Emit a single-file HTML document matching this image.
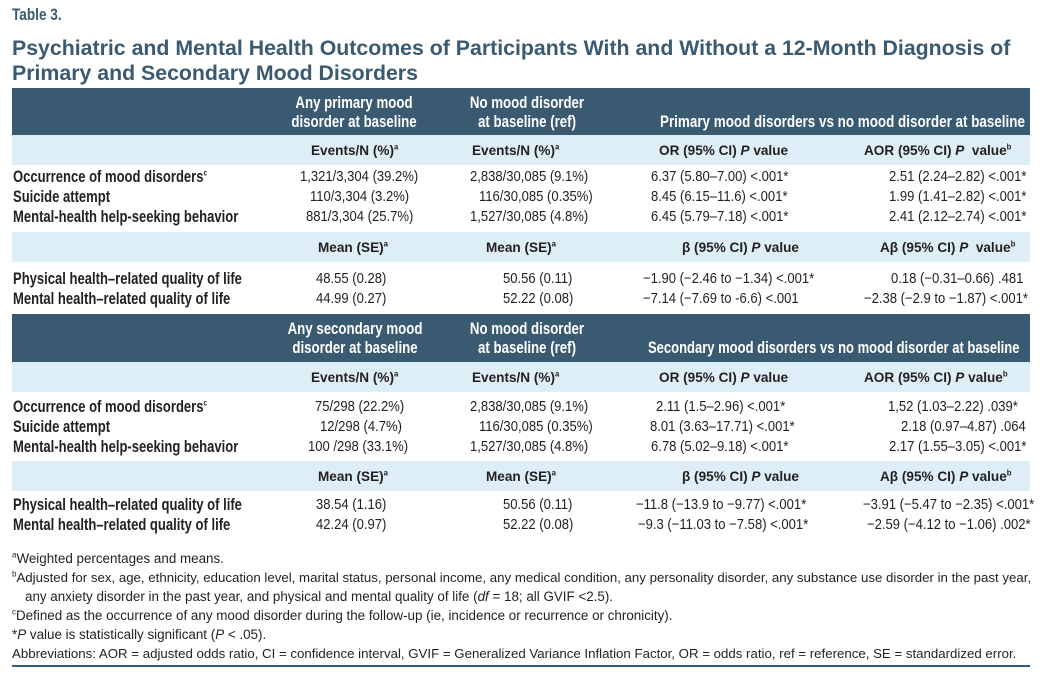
<!DOCTYPE html>
<html><head><meta charset="utf-8"><style>
body{margin:0;width:1042px;height:679px;background:#fff;position:relative;overflow:hidden;font-family:"Liberation Sans",sans-serif;color:#231f20}
.a{position:absolute;white-space:nowrap;line-height:18px;transform-origin:0 50%}
.band{position:absolute;left:12px;width:1018px}
.dk{background:#3a5a72}.lt{background:#ddeef7}
.h{color:#fff;font-weight:bold;font-size:17px;line-height:19px;text-align:center;width:240px;transform:scaleX(.78);transform-origin:50% 50%}
.v{color:#fff;font-weight:bold;font-size:17px;line-height:19px;transform:scaleX(.79)}
.s{font-weight:bold;font-size:14px;transform:scaleX(.97)}
.l{font-weight:bold;font-size:16.5px;transform:scaleX(.79)}
.d{font-size:14.5px;transform:scaleX(.9)}
.f{font-size:13.4px;left:12px}
sup{font-size:8px;line-height:0}
</style></head><body>
<div class="a" style="left:12px;top:6px;font-weight:bold;font-size:17px;color:#3a5a72;transform:scaleX(.8)">Table 3.</div>
<div class="a" style="left:12px;top:36px;font-weight:bold;font-size:21.3px;line-height:25px;color:#3a5a72">Psychiatric and Mental Health Outcomes of Participants With and Without a 12-Month Diagnosis of<br>Primary and Secondary Mood Disorders</div>

<div class="band dk" style="top:88px;height:47px"></div>
<div class="band lt" style="top:135px;height:30px"></div>
<div class="band lt" style="top:232px;height:30px"></div>
<div class="band dk" style="top:314px;height:48px"></div>
<div class="band lt" style="top:362px;height:30px"></div>
<div class="band lt" style="top:461px;height:30px"></div>
<div class="band" style="top:665px;height:2px;background:#3a5a72"></div>

<div class="a h" style="left:234px;top:93px">Any primary mood<br>disorder at baseline</div>
<div class="a h" style="left:407px;top:93px">No mood disorder<br>at baseline (ref)</div>
<div class="a v" style="left:660px;top:112px">Primary mood disorders vs no mood disorder at baseline</div>

<div class="a s" style="left:311px;top:141px">Events/N (%)<sup>a</sup></div>
<div class="a s" style="left:472px;top:141px">Events/N (%)<sup>a</sup></div>
<div class="a s" style="left:659px;top:141px">OR (95% CI) <i>P</i> value</div>
<div class="a s" style="left:864px;top:141px">AOR (95% CI) <i>P</i>&nbsp; value<sup>b</sup></div>

<div class="a l" style="left:13px;top:168px">Occurrence of mood disorders<sup>c</sup></div>
<div class="a l" style="left:13px;top:188px">Suicide attempt</div>
<div class="a l" style="left:13px;top:208px">Mental-health help-seeking behavior</div>
<div class="a d" style="left:300px;top:168px">1,321/3,304 (39.2%)</div>
<div class="a d" style="left:310px;top:188px">110/3,304 (3.2%)</div>
<div class="a d" style="left:306px;top:208px">881/3,304 (25.7%)</div>
<div class="a d" style="left:470px;top:168px">2,838/30,085 (9.1%)</div>
<div class="a d" style="left:479px;top:188px">116/30,085 (0.35%)</div>
<div class="a d" style="left:470px;top:208px">1,527/30,085 (4.8%)</div>
<div class="a d" style="left:651px;top:168px">6.37 (5.80–7.00) &lt;.001*</div>
<div class="a d" style="left:651px;top:188px">8.45 (6.15–11.6) &lt;.001*</div>
<div class="a d" style="left:651px;top:208px">6.45 (5.79–7.18) &lt;.001*</div>
<div class="a d" style="left:889px;top:168px">2.51 (2.24–2.82) &lt;.001*</div>
<div class="a d" style="left:889px;top:188px">1.99 (1.41–2.82) &lt;.001*</div>
<div class="a d" style="left:889px;top:208px">2.41 (2.12–2.74) &lt;.001*</div>

<div class="a s" style="left:318px;top:238px">Mean (SE)<sup>a</sup></div>
<div class="a s" style="left:486px;top:238px">Mean (SE)<sup>a</sup></div>
<div class="a s" style="left:682px;top:238px">β (95% CI) <i>P</i> value</div>
<div class="a s" style="left:880px;top:238px">Aβ (95% CI) <i>P</i>&nbsp; value<sup>b</sup></div>

<div class="a l" style="left:13px;top:270px">Physical health–related quality of life</div>
<div class="a l" style="left:13px;top:290px">Mental health–related quality of life</div>
<div class="a d" style="left:316px;top:270px">48.55 (0.28)</div>
<div class="a d" style="left:316px;top:290px">44.99 (0.27)</div>
<div class="a d" style="left:503px;top:270px">50.56 (0.11)</div>
<div class="a d" style="left:503px;top:290px">52.22 (0.08)</div>
<div class="a d" style="left:643px;top:270px">−1.90 (−2.46 to −1.34) &lt;.001*</div>
<div class="a d" style="left:643px;top:290px">−7.14 (−7.69 to -6.6) &lt;.001</div>
<div class="a d" style="left:891px;top:270px">0.18 (−0.31–0.66) .481</div>
<div class="a d" style="left:864px;top:290px">−2.38 (−2.9 to −1.87) &lt;.001*</div>

<div class="a h" style="left:235px;top:319px">Any secondary mood<br>disorder at baseline</div>
<div class="a h" style="left:407px;top:319px">No mood disorder<br>at baseline (ref)</div>
<div class="a v" style="left:648px;top:338px;transform:scaleX(.765)">Secondary mood disorders vs no mood disorder at baseline</div>

<div class="a s" style="left:311px;top:368px">Events/N (%)<sup>a</sup></div>
<div class="a s" style="left:472px;top:368px">Events/N (%)<sup>a</sup></div>
<div class="a s" style="left:659px;top:368px">OR (95% CI) <i>P</i> value</div>
<div class="a s" style="left:864px;top:368px">AOR (95% CI) <i>P</i> value<sup>b</sup></div>

<div class="a l" style="left:13px;top:398px">Occurrence of mood disorders<sup>c</sup></div>
<div class="a l" style="left:13px;top:418px">Suicide attempt</div>
<div class="a l" style="left:13px;top:438px">Mental-health help-seeking behavior</div>
<div class="a d" style="left:315px;top:398px">75/298 (22.2%)</div>
<div class="a d" style="left:320px;top:418px">12/298 (4.7%)</div>
<div class="a d" style="left:308px;top:438px">100 /298 (33.1%)</div>
<div class="a d" style="left:470px;top:398px">2,838/30,085 (9.1%)</div>
<div class="a d" style="left:479px;top:418px">116/30,085 (0.35%)</div>
<div class="a d" style="left:470px;top:438px">1,527/30,085 (4.8%)</div>
<div class="a d" style="left:656px;top:398px">2.11 (1.5–2.96) &lt;.001*</div>
<div class="a d" style="left:650px;top:418px">8.01 (3.63–17.71) &lt;.001*</div>
<div class="a d" style="left:651px;top:438px">6.78 (5.02–9.18) &lt;.001*</div>
<div class="a d" style="left:888px;top:398px">1,52 (1.03–2.22) .039*</div>
<div class="a d" style="left:901px;top:418px">2.18 (0.97–4.87) .064</div>
<div class="a d" style="left:889px;top:438px">2.17 (1.55–3.05) &lt;.001*</div>

<div class="a s" style="left:318px;top:467px">Mean (SE)<sup>a</sup></div>
<div class="a s" style="left:486px;top:467px">Mean (SE)<sup>a</sup></div>
<div class="a s" style="left:682px;top:467px">β (95% CI) <i>P</i> value</div>
<div class="a s" style="left:880px;top:467px">Aβ (95% CI) <i>P</i> value<sup>b</sup></div>

<div class="a l" style="left:13px;top:496px">Physical health–related quality of life</div>
<div class="a l" style="left:13px;top:516px">Mental health–related quality of life</div>
<div class="a d" style="left:316px;top:496px">38.54 (1.16)</div>
<div class="a d" style="left:316px;top:516px">42.24 (0.97)</div>
<div class="a d" style="left:503px;top:496px">50.56 (0.11)</div>
<div class="a d" style="left:503px;top:516px">52.22 (0.08)</div>
<div class="a d" style="left:636px;top:496px">−11.8 (−13.9 to −9.77) &lt;.001*</div>
<div class="a d" style="left:638px;top:516px">−9.3 (−11.03 to −7.58) &lt;.001*</div>
<div class="a d" style="left:863px;top:496px">−3.91 (−5.47 to −2.35) &lt;.001*</div>
<div class="a d" style="left:867px;top:516px">−2.59 (−4.12 to −1.06) .002*</div>

<div class="a f" style="top:550px"><sup>a</sup>Weighted percentages and means.</div>
<div class="a f" style="top:569px;font-size:13.25px"><sup>b</sup>Adjusted for sex, age, ethnicity, education level, marital status, personal income, any medical condition, any personality disorder, any substance use disorder in the past year,</div>
<div class="a f" style="top:588px;left:25px">any anxiety disorder in the past year, and physical and mental quality of life (<i>df</i> = 18; all GVIF &lt;2.5).</div>
<div class="a f" style="top:607px"><sup>c</sup>Defined as the occurrence of any mood disorder during the follow-up (ie, incidence or recurrence or chronicity).</div>
<div class="a f" style="top:626px">*<i>P</i> value is statistically significant (<i>P</i> &lt; .05).</div>
<div class="a f" style="top:645px;font-size:13.25px">Abbreviations: AOR = adjusted odds ratio, CI = confidence interval, GVIF = Generalized Variance Inflation Factor, OR = odds ratio, ref = reference, SE = standardized error.</div>
</body></html>
